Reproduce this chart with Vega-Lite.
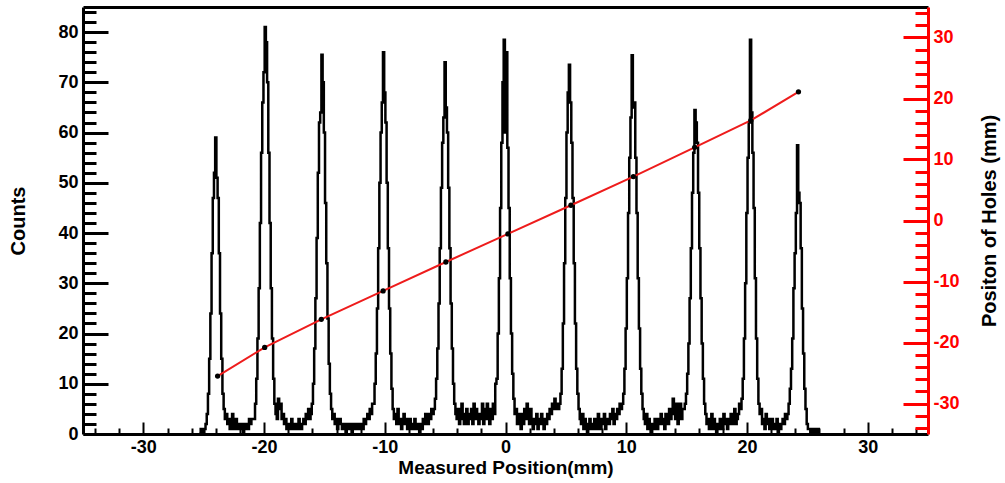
{
"$schema":"https://vega.github.io/schema/vega-lite/v6.json",
"width":845,"height":427,
"autosize":{"type":"none"},
"padding":{"left":83,"top":7,"right":77,"bottom":49},
"background":"white",
"config":{"view":{"stroke":null},"axis":{"grid":false,"labelFont":"Liberation Sans","labelFontWeight":"bold","titleFont":"Liberation Sans","titleFontWeight":"bold"}},
"datasets":{
"hist":[
{"pos":-25.4,"counts":0},{"pos":-25.3,"counts":0},{"pos":-25.2,"counts":1},{"pos":-25.1,"counts":0},{"pos":-25.0,"counts":0},{"pos":-24.9,"counts":1},
{"pos":-24.8,"counts":2},{"pos":-24.7,"counts":4},{"pos":-24.6,"counts":8},{"pos":-24.5,"counts":15},{"pos":-24.4,"counts":24},{"pos":-24.3,"counts":36},{"pos":-24.2,"counts":47},{"pos":-24.1,"counts":52},{"pos":-24.0,"counts":59},{"pos":-23.9,"counts":51},{"pos":-23.8,"counts":47},{"pos":-23.7,"counts":36},{"pos":-23.6,"counts":24},{"pos":-23.5,"counts":15},{"pos":-23.4,"counts":8},{"pos":-23.3,"counts":5},{"pos":-23.2,"counts":3},
{"pos":-23.1,"counts":4},{"pos":-23.0,"counts":2},{"pos":-22.9,"counts":3},{"pos":-22.8,"counts":1},{"pos":-22.7,"counts":2},{"pos":-22.6,"counts":4},{"pos":-22.5,"counts":1},{"pos":-22.4,"counts":2},{"pos":-22.3,"counts":3},{"pos":-22.2,"counts":1},{"pos":-22.1,"counts":2},{"pos":-22.0,"counts":1},{"pos":-21.9,"counts":2},{"pos":-21.8,"counts":1},{"pos":-21.7,"counts":0},{"pos":-21.6,"counts":2},{"pos":-21.5,"counts":1},{"pos":-21.4,"counts":2},{"pos":-21.3,"counts":1},{"pos":-21.2,"counts":3},{"pos":-21.1,"counts":2},{"pos":-21.0,"counts":3},
{"pos":-20.9,"counts":3},{"pos":-20.8,"counts":3},{"pos":-20.7,"counts":6},{"pos":-20.6,"counts":11},{"pos":-20.5,"counts":19},{"pos":-20.4,"counts":29},{"pos":-20.3,"counts":42},{"pos":-20.2,"counts":56},{"pos":-20.1,"counts":66},{"pos":-20.0,"counts":72},{"pos":-19.9,"counts":81},{"pos":-19.8,"counts":78},{"pos":-19.7,"counts":70},{"pos":-19.6,"counts":56},{"pos":-19.5,"counts":42},{"pos":-19.4,"counts":29},{"pos":-19.3,"counts":19},{"pos":-19.2,"counts":11},{"pos":-19.1,"counts":6},{"pos":-19.0,"counts":4},{"pos":-18.9,"counts":3},
{"pos":-18.8,"counts":7},{"pos":-18.7,"counts":5},{"pos":-18.6,"counts":6},{"pos":-18.5,"counts":3},{"pos":-18.4,"counts":4},{"pos":-18.3,"counts":2},{"pos":-18.2,"counts":3},{"pos":-18.1,"counts":1},{"pos":-18.0,"counts":2},{"pos":-17.9,"counts":1},{"pos":-17.8,"counts":2},{"pos":-17.7,"counts":3},{"pos":-17.6,"counts":1},{"pos":-17.5,"counts":2},{"pos":-17.4,"counts":1},{"pos":-17.3,"counts":2},{"pos":-17.2,"counts":1},{"pos":-17.1,"counts":3},{"pos":-17.0,"counts":2},{"pos":-16.9,"counts":1},{"pos":-16.8,"counts":2},{"pos":-16.7,"counts":3},{"pos":-16.6,"counts":2},{"pos":-16.5,"counts":4},{"pos":-16.4,"counts":3},{"pos":-16.3,"counts":5},{"pos":-16.2,"counts":3},{"pos":-16.1,"counts":4},{"pos":-16.0,"counts":6},
{"pos":-15.9,"counts":10},{"pos":-15.8,"counts":17},{"pos":-15.7,"counts":27},{"pos":-15.6,"counts":39},{"pos":-15.5,"counts":52},{"pos":-15.4,"counts":62},{"pos":-15.3,"counts":64},{"pos":-15.2,"counts":75.5},{"pos":-15.1,"counts":70},{"pos":-15.0,"counts":60},{"pos":-14.9,"counts":46},{"pos":-14.8,"counts":34},{"pos":-14.7,"counts":23},{"pos":-14.6,"counts":14},{"pos":-14.5,"counts":8},{"pos":-14.4,"counts":5},{"pos":-14.3,"counts":3},
{"pos":-14.2,"counts":4},{"pos":-14.1,"counts":2},{"pos":-14.0,"counts":3},{"pos":-13.9,"counts":1},{"pos":-13.8,"counts":2},{"pos":-13.7,"counts":3},{"pos":-13.6,"counts":2},{"pos":-13.5,"counts":1},{"pos":-13.4,"counts":2},{"pos":-13.3,"counts":1},{"pos":-13.2,"counts":0},{"pos":-13.1,"counts":2},{"pos":-13.0,"counts":1},{"pos":-12.9,"counts":2},{"pos":-12.8,"counts":1},{"pos":-12.7,"counts":0},{"pos":-12.6,"counts":2},{"pos":-12.5,"counts":1},{"pos":-12.4,"counts":1},{"pos":-12.3,"counts":2},{"pos":-12.2,"counts":1},{"pos":-12.1,"counts":2},{"pos":-12.0,"counts":1},{"pos":-11.9,"counts":2},{"pos":-11.8,"counts":1},{"pos":-11.7,"counts":3},{"pos":-11.6,"counts":2},{"pos":-11.5,"counts":3},{"pos":-11.4,"counts":4},{"pos":-11.3,"counts":3},{"pos":-11.2,"counts":5},{"pos":-11.1,"counts":4},{"pos":-11.0,"counts":6},
{"pos":-10.9,"counts":6},{"pos":-10.8,"counts":10},{"pos":-10.7,"counts":16},{"pos":-10.6,"counts":25},{"pos":-10.5,"counts":37},{"pos":-10.4,"counts":50},{"pos":-10.3,"counts":60},{"pos":-10.2,"counts":66},{"pos":-10.1,"counts":76},{"pos":-10.0,"counts":68},{"pos":-9.9,"counts":62},{"pos":-9.8,"counts":50},{"pos":-9.7,"counts":37},{"pos":-9.6,"counts":25},{"pos":-9.5,"counts":16},{"pos":-9.4,"counts":9},{"pos":-9.3,"counts":5},{"pos":-9.2,"counts":3},
{"pos":-9.1,"counts":4},{"pos":-9.0,"counts":2},{"pos":-8.9,"counts":5},{"pos":-8.8,"counts":2},{"pos":-8.7,"counts":3},{"pos":-8.6,"counts":1},{"pos":-8.5,"counts":3},{"pos":-8.4,"counts":4},{"pos":-8.3,"counts":2},{"pos":-8.2,"counts":3},{"pos":-8.1,"counts":1},{"pos":-8.0,"counts":2},{"pos":-7.9,"counts":3},{"pos":-7.8,"counts":1},{"pos":-7.7,"counts":2},{"pos":-7.6,"counts":1},{"pos":-7.5,"counts":3},{"pos":-7.4,"counts":2},{"pos":-7.3,"counts":1},{"pos":-7.2,"counts":2},{"pos":-7.1,"counts":0},{"pos":-7.0,"counts":2},{"pos":-6.9,"counts":1},{"pos":-6.8,"counts":3},{"pos":-6.7,"counts":2},{"pos":-6.6,"counts":4},{"pos":-6.5,"counts":3},{"pos":-6.4,"counts":2},{"pos":-6.3,"counts":4},{"pos":-6.2,"counts":3},{"pos":-6.1,"counts":5},{"pos":-6.0,"counts":4},
{"pos":-5.9,"counts":5},{"pos":-5.8,"counts":7},{"pos":-5.7,"counts":11},{"pos":-5.6,"counts":17},{"pos":-5.5,"counts":26},{"pos":-5.4,"counts":37},{"pos":-5.3,"counts":49},{"pos":-5.2,"counts":58},{"pos":-5.1,"counts":63},{"pos":-5.0,"counts":74},{"pos":-4.9,"counts":65},{"pos":-4.8,"counts":60},{"pos":-4.7,"counts":49},{"pos":-4.6,"counts":37},{"pos":-4.5,"counts":26},{"pos":-4.4,"counts":17},{"pos":-4.3,"counts":10},{"pos":-4.2,"counts":6},{"pos":-4.1,"counts":4},
{"pos":-4.0,"counts":3},{"pos":-3.9,"counts":5},{"pos":-3.8,"counts":2},{"pos":-3.7,"counts":3},{"pos":-3.6,"counts":6},{"pos":-3.5,"counts":4},{"pos":-3.4,"counts":2},{"pos":-3.3,"counts":3},{"pos":-3.2,"counts":5},{"pos":-3.1,"counts":2},{"pos":-3.0,"counts":4},{"pos":-2.9,"counts":3},{"pos":-2.8,"counts":5},{"pos":-2.7,"counts":2},{"pos":-2.6,"counts":6},{"pos":-2.5,"counts":3},{"pos":-2.4,"counts":5},{"pos":-2.3,"counts":4},{"pos":-2.2,"counts":2},{"pos":-2.1,"counts":4},{"pos":-2.0,"counts":3},{"pos":-1.9,"counts":6},{"pos":-1.8,"counts":2},{"pos":-1.7,"counts":5},{"pos":-1.6,"counts":3},{"pos":-1.5,"counts":6},{"pos":-1.4,"counts":4},{"pos":-1.3,"counts":2},{"pos":-1.2,"counts":5},{"pos":-1.1,"counts":3},{"pos":-1.0,"counts":6},{"pos":-0.9,"counts":4},{"pos":-0.8,"counts":10},
{"pos":-0.7,"counts":11},{"pos":-0.6,"counts":20},{"pos":-0.5,"counts":31},{"pos":-0.4,"counts":45},{"pos":-0.3,"counts":58},{"pos":-0.2,"counts":70},{"pos":-0.1,"counts":78.5},{"pos":0.0,"counts":60},{"pos":0.1,"counts":76},{"pos":0.2,"counts":57},{"pos":0.3,"counts":45},{"pos":0.4,"counts":31},{"pos":0.5,"counts":20},{"pos":0.6,"counts":12},{"pos":0.7,"counts":7},
{"pos":0.8,"counts":4},{"pos":0.9,"counts":5},{"pos":1.0,"counts":2},{"pos":1.1,"counts":4},{"pos":1.2,"counts":3},{"pos":1.3,"counts":1},{"pos":1.4,"counts":4},{"pos":1.5,"counts":2},{"pos":1.6,"counts":5},{"pos":1.7,"counts":3},{"pos":1.8,"counts":6},{"pos":1.9,"counts":4},{"pos":2.0,"counts":2},{"pos":2.1,"counts":5},{"pos":2.2,"counts":3},{"pos":2.3,"counts":1},{"pos":2.4,"counts":3},{"pos":2.5,"counts":2},{"pos":2.6,"counts":4},{"pos":2.7,"counts":1},{"pos":2.8,"counts":3},{"pos":2.9,"counts":2},{"pos":3.0,"counts":4},{"pos":3.1,"counts":3},{"pos":3.2,"counts":1},{"pos":3.3,"counts":3},{"pos":3.4,"counts":2},{"pos":3.5,"counts":4},{"pos":3.6,"counts":3},{"pos":3.7,"counts":5},{"pos":3.8,"counts":4},{"pos":3.9,"counts":6},{"pos":4.0,"counts":5},{"pos":4.1,"counts":7},
{"pos":4.2,"counts":5},{"pos":4.3,"counts":6},{"pos":4.4,"counts":5},{"pos":4.5,"counts":6},{"pos":4.6,"counts":8},{"pos":4.7,"counts":13},{"pos":4.8,"counts":22},{"pos":4.9,"counts":34},{"pos":5.0,"counts":47},{"pos":5.1,"counts":60},{"pos":5.2,"counts":68},{"pos":5.3,"counts":73.5},{"pos":5.4,"counts":66},{"pos":5.5,"counts":58},{"pos":5.6,"counts":47},{"pos":5.7,"counts":34},{"pos":5.8,"counts":22},{"pos":5.9,"counts":13},{"pos":6.0,"counts":8},{"pos":6.1,"counts":5},{"pos":6.2,"counts":3},
{"pos":6.3,"counts":2},{"pos":6.4,"counts":4},{"pos":6.5,"counts":1},{"pos":6.6,"counts":3},{"pos":6.7,"counts":2},{"pos":6.8,"counts":0},{"pos":6.9,"counts":2},{"pos":7.0,"counts":3},{"pos":7.1,"counts":1},{"pos":7.2,"counts":2},{"pos":7.3,"counts":1},{"pos":7.4,"counts":3},{"pos":7.5,"counts":2},{"pos":7.6,"counts":1},{"pos":7.7,"counts":4},{"pos":7.8,"counts":2},{"pos":7.9,"counts":1},{"pos":8.0,"counts":3},{"pos":8.1,"counts":2},{"pos":8.2,"counts":4},{"pos":8.3,"counts":1},{"pos":8.4,"counts":2},{"pos":8.5,"counts":3},{"pos":8.6,"counts":2},{"pos":8.7,"counts":4},{"pos":8.8,"counts":3},{"pos":8.9,"counts":5},{"pos":9.0,"counts":2},{"pos":9.1,"counts":4},{"pos":9.2,"counts":3},{"pos":9.3,"counts":5},{"pos":9.4,"counts":4},{"pos":9.5,"counts":6},
{"pos":9.6,"counts":5},{"pos":9.7,"counts":6},{"pos":9.8,"counts":8},{"pos":9.9,"counts":13},{"pos":10.0,"counts":21},{"pos":10.1,"counts":31},{"pos":10.2,"counts":44},{"pos":10.3,"counts":55},{"pos":10.4,"counts":63},{"pos":10.5,"counts":75.4},{"pos":10.6,"counts":65},{"pos":10.7,"counts":66},{"pos":10.8,"counts":55},{"pos":10.9,"counts":44},{"pos":11.0,"counts":31},{"pos":11.1,"counts":21},{"pos":11.2,"counts":13},{"pos":11.3,"counts":8},{"pos":11.4,"counts":5},{"pos":11.5,"counts":3},
{"pos":11.6,"counts":2},{"pos":11.7,"counts":4},{"pos":11.8,"counts":1},{"pos":11.9,"counts":3},{"pos":12.0,"counts":2},{"pos":12.1,"counts":0},{"pos":12.2,"counts":2},{"pos":12.3,"counts":1},{"pos":12.4,"counts":3},{"pos":12.5,"counts":2},{"pos":12.6,"counts":1},{"pos":12.7,"counts":3},{"pos":12.8,"counts":2},{"pos":12.9,"counts":4},{"pos":13.0,"counts":2},{"pos":13.1,"counts":3},{"pos":13.2,"counts":1},{"pos":13.3,"counts":4},{"pos":13.4,"counts":3},{"pos":13.5,"counts":2},{"pos":13.6,"counts":5},{"pos":13.7,"counts":3},{"pos":13.8,"counts":4},{"pos":13.9,"counts":7},{"pos":14.0,"counts":5},{"pos":14.1,"counts":3},{"pos":14.2,"counts":6},{"pos":14.3,"counts":2},{"pos":14.4,"counts":4},{"pos":14.5,"counts":6},{"pos":14.6,"counts":3},{"pos":14.7,"counts":5},
{"pos":14.8,"counts":5},{"pos":14.9,"counts":6},{"pos":15.0,"counts":8},{"pos":15.1,"counts":12},{"pos":15.2,"counts":18},{"pos":15.3,"counts":27},{"pos":15.4,"counts":37},{"pos":15.5,"counts":48},{"pos":15.6,"counts":56},{"pos":15.7,"counts":64.5},{"pos":15.8,"counts":62},{"pos":15.9,"counts":58},{"pos":16.0,"counts":48},{"pos":16.1,"counts":37},{"pos":16.2,"counts":27},{"pos":16.3,"counts":18},{"pos":16.4,"counts":11},{"pos":16.5,"counts":6},{"pos":16.6,"counts":4},
{"pos":16.7,"counts":2},{"pos":16.8,"counts":3},{"pos":16.9,"counts":1},{"pos":17.0,"counts":2},{"pos":17.1,"counts":4},{"pos":17.2,"counts":1},{"pos":17.3,"counts":3},{"pos":17.4,"counts":2},{"pos":17.5,"counts":0},{"pos":17.6,"counts":2},{"pos":17.7,"counts":1},{"pos":17.8,"counts":3},{"pos":17.9,"counts":2},{"pos":18.0,"counts":1},{"pos":18.1,"counts":4},{"pos":18.2,"counts":2},{"pos":18.3,"counts":3},{"pos":18.4,"counts":1},{"pos":18.5,"counts":2},{"pos":18.6,"counts":3},{"pos":18.7,"counts":4},{"pos":18.8,"counts":2},{"pos":18.9,"counts":3},{"pos":19.0,"counts":5},{"pos":19.1,"counts":2},{"pos":19.2,"counts":3},{"pos":19.3,"counts":4},{"pos":19.4,"counts":6},
{"pos":19.5,"counts":5},{"pos":19.6,"counts":7},{"pos":19.7,"counts":11},{"pos":19.8,"counts":19},{"pos":19.9,"counts":30},{"pos":20.0,"counts":44},{"pos":20.1,"counts":55},{"pos":20.2,"counts":62},{"pos":20.3,"counts":78.5},{"pos":20.4,"counts":64},{"pos":20.5,"counts":56},{"pos":20.6,"counts":45},{"pos":20.7,"counts":31},{"pos":20.8,"counts":19},{"pos":20.9,"counts":11},{"pos":21.0,"counts":6},{"pos":21.1,"counts":4},
{"pos":21.2,"counts":5},{"pos":21.3,"counts":2},{"pos":21.4,"counts":3},{"pos":21.5,"counts":1},{"pos":21.6,"counts":4},{"pos":21.7,"counts":2},{"pos":21.8,"counts":3},{"pos":21.9,"counts":1},{"pos":22.0,"counts":2},{"pos":22.1,"counts":3},{"pos":22.2,"counts":1},{"pos":22.3,"counts":2},{"pos":22.4,"counts":1},{"pos":22.5,"counts":3},{"pos":22.6,"counts":0},{"pos":22.7,"counts":2},{"pos":22.8,"counts":1},{"pos":22.9,"counts":2},{"pos":23.0,"counts":3},{"pos":23.1,"counts":2},{"pos":23.2,"counts":4},{"pos":23.3,"counts":3},
{"pos":23.4,"counts":4},{"pos":23.5,"counts":6},{"pos":23.6,"counts":9},{"pos":23.7,"counts":13},{"pos":23.8,"counts":19},{"pos":23.9,"counts":29},{"pos":24.0,"counts":36},{"pos":24.1,"counts":44},{"pos":24.2,"counts":57.5},{"pos":24.3,"counts":48},{"pos":24.4,"counts":46},{"pos":24.5,"counts":37},{"pos":24.6,"counts":25},{"pos":24.7,"counts":16},{"pos":24.8,"counts":9},{"pos":24.9,"counts":5},{"pos":25.0,"counts":2},{"pos":25.1,"counts":1},{"pos":25.2,"counts":1},{"pos":25.3,"counts":0},{"pos":25.4,"counts":1},{"pos":25.5,"counts":0},{"pos":25.6,"counts":1},{"pos":25.7,"counts":0},{"pos":25.8,"counts":0},{"pos":25.9,"counts":1},{"pos":26.0,"counts":0}
],
"holes":[
{"measured":-23.85,"hole":-25.5},{"measured":-19.95,"hole":-20.8},{"measured":-15.26,"hole":-16.2},{"measured":-10.14,"hole":-11.55},{"measured":-4.94,"hole":-6.8},{"measured":0.2,"hole":-2.2},{"measured":5.42,"hole":2.5},{"measured":10.59,"hole":7.2},{"measured":15.67,"hole":12.0},{"measured":20.32,"hole":16.4},{"measured":24.27,"hole":21.1}
]
},
"layer":[
{"data":{"name":"hist"},
 "mark":{"type":"line","interpolate":"step","color":"black","strokeWidth":2.5},
 "encoding":{
  "x":{"field":"pos","type":"quantitative","scale":{"domain":[-35,35],"nice":false,"zero":false},
   "axis":{"orient":"bottom","title":"Measured Position(mm)","titleFontSize":19,"titleColor":"black","titlePadding":-4,
    "values":[-34,-32,-30,-28,-26,-24,-22,-20,-18,-16,-14,-12,-10,-8,-6,-4,-2,0,2,4,6,8,10,12,14,16,18,20,22,24,26,28,30,32,34],
    "labelExpr":"datum.value % 10 === 0 ? '' + datum.value : ''","labelFontSize":18,"labelColor":"black","labelPadding":16,
    "tickSize":{"condition":{"test":"datum.value % 10 === 0","value":-12},"value":-6},"tickWidth":2,"tickColor":"black",
    "domainColor":"black","domainWidth":3,"labelOverlap":false}},
  "y":{"field":"counts","type":"quantitative","scale":{"domain":[0,85],"nice":false},
   "axis":{"orient":"left","title":"Counts","titleFontSize":20,"titleColor":"black","titlePadding":29,
    "values":[0,2,4,6,8,10,12,14,16,18,20,22,24,26,28,30,32,34,36,38,40,42,44,46,48,50,52,54,56,58,60,62,64,66,68,70,72,74,76,78,80,82,84],
    "labelExpr":"datum.value % 10 === 0 ? '' + datum.value : ''","labelFontSize":18,"labelColor":"black","labelPadding":30,
    "tickSize":{"condition":{"test":"datum.value % 10 === 0","value":-25},"value":-13},"tickWidth":3,"tickColor":"black",
    "domainColor":"black","domainWidth":3,"labelOverlap":false}}
 }},
{"data":{"name":"holes"},
 "encoding":{
  "x":{"field":"measured","type":"quantitative",
   "axis":{"orient":"top","title":null,"labels":false,"ticks":false,"domainColor":"black","domainWidth":3}},
  "y":{"field":"hole","type":"quantitative","scale":{"domain":[-35,35],"nice":false,"zero":false},
   "axis":{"orient":"right","title":"Positon of Holes (mm)","titleFontSize":20,"titleColor":"black","titleAngle":270,"titlePadding":40,
    "values":[-34,-32,-30,-28,-26,-24,-22,-20,-18,-16,-14,-12,-10,-8,-6,-4,-2,0,2,4,6,8,10,12,14,16,18,20,22,24,26,28,30,32,34],
    "labelExpr":"datum.value % 10 === 0 ? '' + datum.value : ''","labelFontSize":18,"labelColor":"#ff0000","labelPadding":30,
    "tickSize":{"condition":{"test":"datum.value % 10 === 0","value":-25},"value":-13},"tickWidth":3,"tickColor":"#ff0000",
    "domainColor":"#ff0000","domainWidth":3,"labelOverlap":false}}
 },
 "layer":[
  {"mark":{"type":"line","color":"#ee1c1c","strokeWidth":2}},
  {"mark":{"type":"circle","color":"black","size":28,"opacity":1}}
 ]}
],
"resolve":{"scale":{"y":"independent"},"axis":{"x":"independent"}}
}
